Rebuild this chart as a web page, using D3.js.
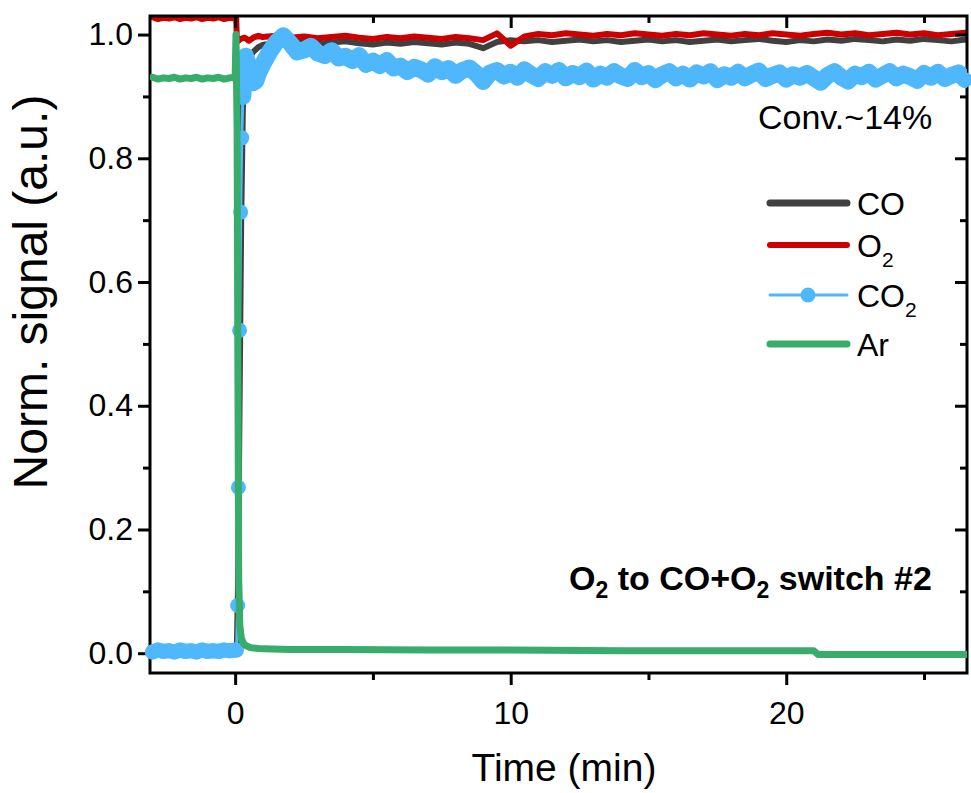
<!DOCTYPE html>
<html lang="en">
<head>
<meta charset="utf-8" />
<title>O2 to CO+O2 switch #2</title>
<script src="https://d3js.org/d3.v7.min.js"></script>
<style>
  body { margin: 0; background: #fff; }
  svg { display: block; font-family: "Liberation Sans", Arial, sans-serif; }
  .axis text { font-size: 32px; fill: #000; }
  .axis line { stroke: #000; stroke-width: 3px; }
  .axis path.domain { display: none; }
</style>
</head>
<body>
<svg id="chart" width="971" height="793"></svg>
<script>
// ---------------- data ----------------
// before the switch, every 0.2 min
const tPre = [-3.0, -2.8, -2.6, -2.4, -2.2, -2.0, -1.8, -1.6, -1.4, -1.2, -1.0, -0.8, -0.6, -0.4, -0.2, 0.0];
const coPre  = [0.003, 0.002, 0.004, 0.003, 0.002, 0.003, 0.004, 0.002, 0.003, 0.004, 0.003, 0.002, 0.003, 0.004, 0.003, 0.003];
const o2Pre  = [1.028, 1.025, 1.027, 1.026, 1.028, 1.025, 1.027, 1.026, 1.028, 1.025, 1.027, 1.026, 1.028, 1.025, 1.027, 1.026];
const co2Pre = [0.002, 0.005, 0.003, 0.004, 0.002, 0.005, 0.003, 0.004, 0.002, 0.005, 0.003, 0.004, 0.003, 0.005, 0.004, 0.005];
const arPre  = [0.931, 0.928, 0.930, 0.929, 0.931, 0.928, 0.930, 0.929, 0.931, 0.928, 0.930, 0.929, 0.931, 0.928, 0.930, 0.930];

// the switch itself
const tCoJump = [0.06, 0.10, 0.16, 0.22, 0.28, 0.34, 0.42, 0.55, 0.70, 0.85];
const coJump  = [0.004, 0.10, 0.40, 0.70, 0.88, 0.935, 0.958, 0.966, 0.974, 0.980];
const tO2Jump = [0.04, 0.06, 0.12, 0.20, 0.35, 0.50, 0.70, 0.85];
const o2Jump  = [1.026, 0.993, 0.990, 0.993, 0.995, 0.990, 0.996, 0.998];
const tCo2Jump = [0.05, 0.09, 0.12, 0.16, 0.20, 0.24, 0.28];
const co2Jump  = [0.005, 0.077, 0.268, 0.522, 0.713, 0.833, 0.900];
const tCo2Settle = [0.28, 0.33, 0.38, 0.45, 0.55, 0.65, 0.75, 0.85];
const co2Settle  = [0.900, 0.950, 0.965, 0.955, 0.935, 0.922, 0.925, 0.938];
const tArJump = [0.00, 0.03, 0.07, 0.10, 0.13, 0.17, 0.22, 0.30, 0.40, 0.55, 0.75];
const arJump  = [0.930, 1.000, 0.850, 0.450, 0.120, 0.045, 0.025, 0.016, 0.012, 0.009, 0.008];

// after the switch, CO and O2 every 0.5 min
const tHalf = [1.0, 1.5, 2.0, 2.5, 3.0, 3.5, 4.0, 4.5, 5.0, 5.5, 6.0, 6.5, 7.0, 7.5, 8.0, 8.5, 9.0, 9.5,
  10.0, 10.5, 11.0, 11.5, 12.0, 12.5, 13.0, 13.5, 14.0, 14.5, 15.0, 15.5, 16.0, 16.5, 17.0, 17.5, 18.0, 18.5,
  19.0, 19.5, 20.0, 20.5, 21.0, 21.5, 22.0, 22.5, 23.0, 23.5, 24.0, 24.5, 25.0, 25.5, 26.0, 26.5, 27.0];
const coMain = [0.983, 0.987, 0.989, 0.988, 0.985, 0.987, 0.989, 0.986, 0.984, 0.987, 0.985, 0.988, 0.986, 0.984, 0.987, 0.985, 0.978, 0.988,
  0.991, 0.989, 0.991, 0.988, 0.990, 0.992, 0.989, 0.991, 0.988, 0.990, 0.992, 0.989, 0.991, 0.988, 0.990, 0.992, 0.989, 0.991,
  0.993, 0.990, 0.988, 0.991, 0.989, 0.992, 0.990, 0.993, 0.991, 0.989, 0.992, 0.990, 0.993, 0.991, 0.989, 0.992, 0.990];
const o2Main = [0.996, 0.998, 0.995, 0.997, 0.994, 0.996, 0.998, 0.995, 0.993, 0.996, 0.994, 0.997, 0.995, 0.993, 0.996, 0.994, 0.991, 1.002,
  0.982, 0.997, 1.001, 0.999, 1.002, 1.000, 0.998, 1.001, 0.999, 1.002, 1.000, 0.998, 1.001, 0.999, 1.002, 1.000, 0.998, 1.001,
  0.999, 1.002, 1.000, 0.998, 1.001, 1.003, 1.000, 1.002, 0.999, 1.001, 1.003, 1.000, 1.002, 0.999, 1.001, 1.003, 1.000];

// after the switch, CO2 every 0.25 min
const tQuarter = [1.0, 1.25, 1.5, 1.75, 2.0, 2.25, 2.5, 2.75, 3.0, 3.25, 3.5, 3.75, 4.0, 4.25, 4.5, 4.75,
  5.0, 5.25, 5.5, 5.75, 6.0, 6.25, 6.5, 6.75, 7.0, 7.25, 7.5, 7.75, 8.0, 8.25, 8.5, 8.75,
  9.0, 9.25, 9.5, 9.75, 10.0, 10.25, 10.5, 10.75, 11.0, 11.25, 11.5, 11.75, 12.0, 12.25, 12.5, 12.75,
  13.0, 13.25, 13.5, 13.75, 14.0, 14.25, 14.5, 14.75, 15.0, 15.25, 15.5, 15.75, 16.0, 16.25, 16.5, 16.75,
  17.0, 17.25, 17.5, 17.75, 18.0, 18.25, 18.5, 18.75, 19.0, 19.25, 19.5, 19.75, 20.0, 20.25, 20.5, 20.75,
  21.0, 21.25, 21.5, 21.75, 22.0, 22.25, 22.5, 22.75, 23.0, 23.25, 23.5, 23.75, 24.0, 24.25, 24.5, 24.75,
  25.0, 25.25, 25.5, 25.75, 26.0, 26.25, 26.5];
const co2Main = [0.952, 0.972, 0.988, 0.998, 0.986, 0.972, 0.975, 0.981, 0.970, 0.966, 0.974, 0.962, 0.965, 0.958, 0.966, 0.952,
  0.957, 0.950, 0.958, 0.946, 0.949, 0.940, 0.947, 0.943, 0.936, 0.948, 0.940, 0.945, 0.934, 0.942, 0.946, 0.937,
  0.924, 0.938, 0.942, 0.933, 0.939, 0.931, 0.943, 0.935, 0.929, 0.940, 0.934, 0.942, 0.930, 0.937, 0.932, 0.941,
  0.928, 0.936, 0.931, 0.940, 0.933, 0.929, 0.942, 0.932, 0.937, 0.927, 0.935, 0.940, 0.930, 0.936, 0.928, 0.938,
  0.933, 0.940, 0.927, 0.935, 0.931, 0.939, 0.930, 0.936, 0.941, 0.929, 0.934, 0.938, 0.928, 0.935, 0.931, 0.937,
  0.930, 0.923, 0.934, 0.940, 0.931, 0.925, 0.936, 0.932, 0.939, 0.928, 0.934, 0.940, 0.930, 0.936, 0.932, 0.926,
  0.937, 0.931, 0.939, 0.929, 0.934, 0.938, 0.927];

// Ar tail
const tArMain = [1.0, 2.0, 4.0, 7.0, 10.0, 14.0, 18.0, 21.0, 21.15, 24.0, 27.0];
const arMain  = [0.007, 0.006, 0.006, 0.005, 0.005, 0.004, 0.004, 0.004, -0.002, -0.002, -0.002];

const xTicks = [0, 10, 20];
const xMinor = [5, 15, 25];
const yTicks = [0, 0.2, 0.4, 0.6, 0.8, 1.0];
const yMinor = [0.1, 0.3, 0.5, 0.7, 0.9];

const legendNames = ["CO", "O", "CO", "Ar"];
const legendSubs = ["", "2", "2", ""];
const colors = { co: "#404040", o2: "#cc0000", co2: "#4fb8fc", ar: "#38ac6a" };

// ---------------- layout ----------------
const svg = d3.select("#chart");
const plotL = 150, plotR = 967, plotT = 16, plotB = 673;

const x = d3.scaleLinear().domain([-3.09, 26.56]).range([plotL, plotR]);
const y = d3.scaleLinear().domain([-0.032, 1.030]).range([plotB, plotT]);

const pts = (ts, vs) => ts.map((t, i) => [t, vs[i]]);
const coData  = [...pts(tPre, coPre), ...pts(tCoJump, coJump), ...pts(tHalf, coMain)];
const o2Data  = [...pts(tPre, o2Pre), ...pts(tO2Jump, o2Jump), ...pts(tHalf, o2Main)];
const co2Before = pts(tPre, co2Pre);
const co2Rise = pts(tCo2Jump, co2Jump);
const co2After = [...pts(tCo2Settle, co2Settle), ...pts(tQuarter, co2Main)];
const co2Data = [...co2Before, ...co2Rise, ...co2After];
const arData  = [...pts(tPre, arPre), ...pts(tArJump, arJump), ...pts(tArMain, arMain)];

svg.append("defs").append("clipPath").attr("id", "plotClip")
  .append("rect").attr("x", plotL).attr("y", plotT).attr("width", plotR - plotL).attr("height", plotB - plotT);

const line = d3.line().x(d => x(d[0])).y(d => y(d[1]));

function drawLine(data, color, width, clip = true) {
  svg.append("path")
    .datum(data)
    .attr("clip-path", clip ? "url(#plotClip)" : null)
    .attr("d", line)
    .attr("fill", "none")
    .attr("stroke", color)
    .attr("stroke-width", width)
    .attr("stroke-linejoin", "round")
    .attr("stroke-linecap", "round");
}

drawLine(coData, colors.co, 6);
drawLine(o2Data, colors.o2, 6);

// ---------------- axes + frame ----------------
function addAxis(axis, tx, ty) {
  return svg.append("g").attr("class", "axis").attr("transform", `translate(${tx},${ty})`).call(axis);
}
addAxis(d3.axisBottom(x).tickValues(xTicks).tickSize(12).tickPadding(16).tickFormat(d3.format("d")), 0, plotB);
addAxis(d3.axisBottom(x).tickValues(xMinor).tickSize(7).tickFormat(""), 0, plotB);
addAxis(d3.axisLeft(y).tickValues(yTicks).tickSize(12).tickPadding(5).tickFormat(d3.format(".1f")), plotL, 0);
addAxis(d3.axisLeft(y).tickValues(yMinor).tickSize(7).tickFormat(""), plotL, 0);
// mirrored ticks, pointing inward
addAxis(d3.axisBottom(x).tickValues(xTicks).tickSize(12).tickFormat(""), 0, plotT);
addAxis(d3.axisBottom(x).tickValues(xMinor).tickSize(7).tickFormat(""), 0, plotT);
addAxis(d3.axisLeft(y).tickValues(yTicks).tickSize(12).tickFormat(""), plotR, 0);
addAxis(d3.axisLeft(y).tickValues(yMinor).tickSize(7).tickFormat(""), plotR, 0);

svg.append("rect")
  .attr("x", plotL).attr("y", plotT).attr("width", plotR - plotL).attr("height", plotB - plotT)
  .attr("fill", "none").attr("stroke", "#000").attr("stroke-width", 3);

// CO2: dense overlapping markers -> thick band where points are packed, thin line on the rise
drawLine(co2Before, colors.co2, 15, false);
drawLine(co2After, colors.co2, 17);
drawLine(co2Data, colors.co2, 3);
svg.append("g").selectAll("circle")
  .data(co2Data)
  .join("circle")
  .attr("cx", d => x(d[0]))
  .attr("cy", d => y(d[1]))
  .attr("r", 7.5)
  .attr("fill", colors.co2);

drawLine(arData, colors.ar, 7);

// ---------------- axis titles ----------------
svg.append("text")
  .attr("x", 564).attr("y", 781)
  .attr("text-anchor", "middle")
  .attr("font-size", 39)
  .text("Time (min)");

svg.append("text")
  .attr("transform", "translate(47,292) rotate(-90)")
  .attr("text-anchor", "middle")
  .attr("font-size", 48)
  .text("Norm. signal (a.u.)");

// ---------------- annotations ----------------
svg.append("text")
  .attr("x", 758).attr("y", 129)
  .attr("font-size", 34)
  .text("Conv.~14%");

const note = svg.append("text")
  .attr("x", 569).attr("y", 590)
  .attr("font-size", 34)
  .attr("font-weight", "bold");
note.append("tspan").text("O");
note.append("tspan").attr("font-size", 23).attr("dy", 8).text("2");
note.append("tspan").attr("dy", -8).text(" to CO+O");
note.append("tspan").attr("font-size", 23).attr("dy", 8).text("2");
note.append("tspan").attr("dy", -8).text(" switch #2");

// ---------------- legend ----------------
const legendRowsY = [203, 245, 295, 344];
const legendColors = [colors.co, colors.o2, colors.co2, colors.ar];
const legendWidths = [7, 6, 3, 7];

legendNames.forEach((name, i) => {
  const ly = legendRowsY[i];
  svg.append("line")
    .attr("x1", 770).attr("x2", 847)
    .attr("y1", ly).attr("y2", ly)
    .attr("stroke", legendColors[i])
    .attr("stroke-width", legendWidths[i])
    .attr("stroke-linecap", "round");
  if (i === 2) {
    svg.append("circle").attr("cx", 808).attr("cy", ly).attr("r", 7.5).attr("fill", legendColors[i]);
  }
  const t = svg.append("text").attr("x", 857).attr("y", ly + 12).attr("font-size", 32);
  t.append("tspan").text(name);
  if (legendSubs[i]) {
    t.append("tspan").attr("font-size", 21).attr("dy", 10).text(legendSubs[i]);
  }
});
</script>
</body>
</html>
